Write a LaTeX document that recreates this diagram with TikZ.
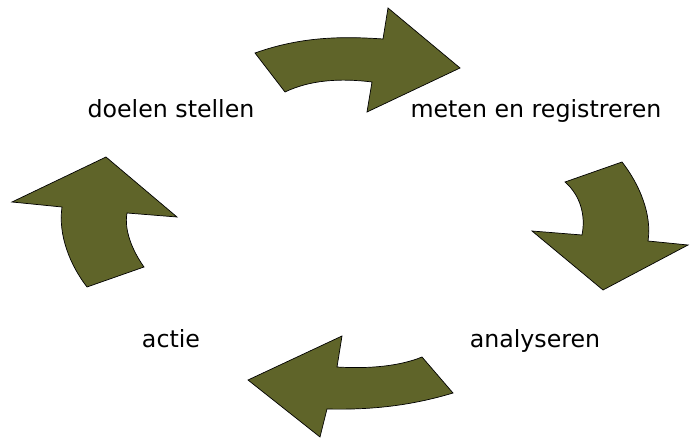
\documentclass[tikz,border=0pt]{standalone}
\usepackage{fontspec}
\setmainfont{DejaVu Sans}
\definecolor{olive}{HTML}{5F6429}
\begin{document}
\begin{tikzpicture}[x=1pt,y=-1pt,
  cyclearrow/.style={fill=olive,draw=black,line width=0.7pt,line join=miter},
  lbl/.style={anchor=base,inner sep=0pt,font=\fontsize{23.7}{28}\selectfont}]
\useasboundingbox (0,0) rectangle (690,438);
% top arrow
\draw[cyclearrow] (255,53) .. controls (300,37) and (340,36) .. (383,39)
  -- (388,8) -- (460,68) -- (367,112) -- (372,82)
  .. controls (340,78) and (310,80) .. (285,92) -- cycle;
% right arrow
\draw[cyclearrow] (565,182) -- (622,162)
  .. controls (640,185) and (652,215) .. (648,241)
  -- (688,245) -- (603,290) -- (532,231) -- (582,235)
  .. controls (586,215) and (580,195) .. cycle;
% bottom arrow
\draw[cyclearrow] (422,357) -- (453,393)
  .. controls (410,406) and (370,410) .. (327,409)
  -- (320,437) -- (248,380) -- (342,336) -- (337,367)
  .. controls (370,369) and (400,366) .. cycle;
% left arrow
\draw[cyclearrow] (87,287) -- (144,267)
  .. controls (132,250) and (124,230) .. (127,213)
  -- (177,217) -- (106,157) -- (12,202) -- (62,207)
  .. controls (58,235) and (70,265) .. cycle;
\node[lbl] (doel) at (171,118) {doelen stellen};
\node[lbl] (meten) at (536,118) {meten en registreren};
\node[lbl] (anal) at (535,347) {analyseren};
\node[lbl] (actie) at (171,347) {actie};
\end{tikzpicture}
\end{document}
